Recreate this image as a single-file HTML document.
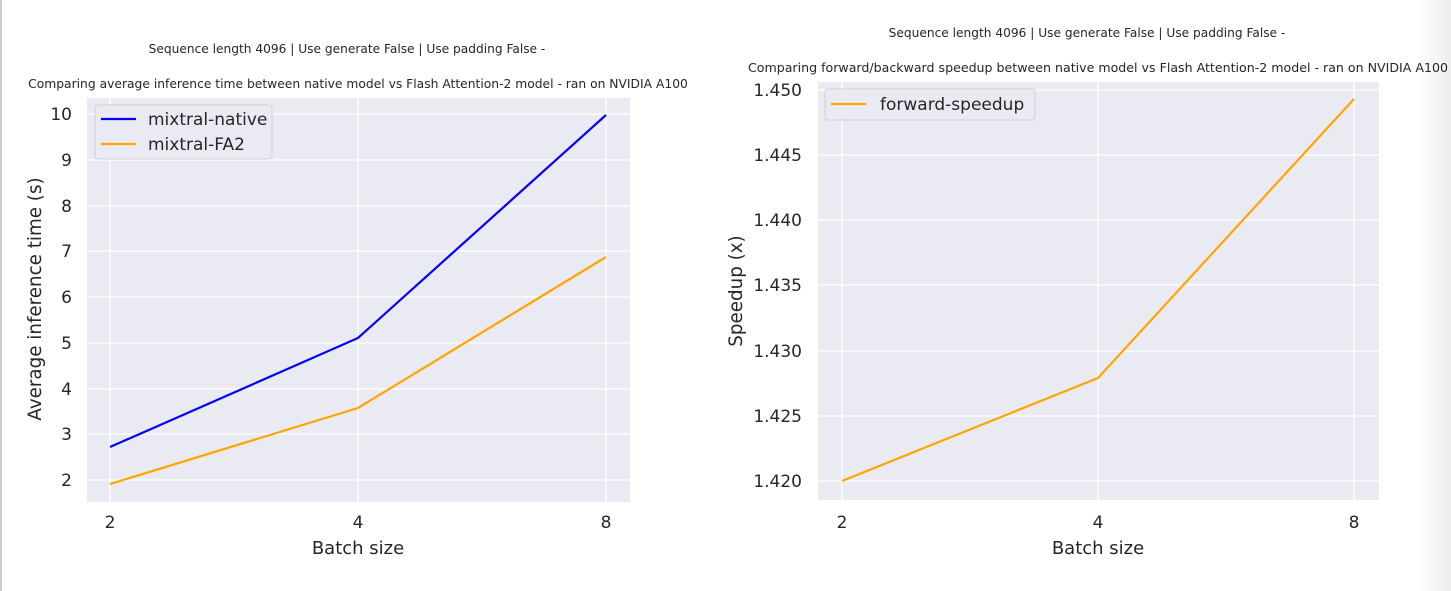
<!DOCTYPE html>
<html><head><style>body{margin:0;background:#fff;}svg{display:block}text{font-family:"DejaVu Sans","Liberation Sans",sans-serif;fill:#262626}</style></head>
<body>
<svg width="1451" height="591" xmlns="http://www.w3.org/2000/svg">
<defs><linearGradient id="g" x1="0" x2="1"><stop offset="0" stop-color="#fff"/><stop offset="1" stop-color="#eee"/></linearGradient></defs>
<rect x="1415" y="0" width="36" height="591" fill="url(#g)"/>
<rect x="0" y="0" width="2" height="591" fill="#ccc"/>
<!-- left -->
<text x="347" y="53" font-size="12.2" text-anchor="middle">Sequence length 4096 | Use generate False | Use padding False -</text>
<text x="358" y="88" font-size="12.3" text-anchor="middle">Comparing average inference time between native model vs Flash Attention-2 model - ran on NVIDIA A100</text>
<rect x="87" y="98" width="543" height="404" fill="#eaeaf2"/>
<g stroke="#fff" stroke-width="1.3">
<line x1="87" x2="630" y1="114" y2="114"/><line x1="87" x2="630" y1="160" y2="160"/><line x1="87" x2="630" y1="206" y2="206"/><line x1="87" x2="630" y1="251" y2="251"/><line x1="87" x2="630" y1="297" y2="297"/><line x1="87" x2="630" y1="343" y2="343"/><line x1="87" x2="630" y1="389" y2="389"/><line x1="87" x2="630" y1="434" y2="434"/><line x1="87" x2="630" y1="480" y2="480"/>
<line x1="110" x2="110" y1="98" y2="502"/><line x1="358" x2="358" y1="98" y2="502"/><line x1="606" x2="606" y1="98" y2="502"/>
</g>
<polyline points="110,447 358,338 606,115" fill="none" stroke="#0000ff" stroke-width="2.2"/>
<polyline points="110,484 358,408 606,257" fill="none" stroke="#ffa500" stroke-width="2.2"/>
<rect x="95" y="105" width="177" height="54" rx="3" fill="#eaeaf2" fill-opacity="0.8" stroke="#d0d0d8"/>
<line x1="101" x2="136" y1="119" y2="119" stroke="#0000ff" stroke-width="2.2"/>
<line x1="101" x2="136" y1="144" y2="144" stroke="#ffa500" stroke-width="2.2"/>
<text x="148" y="125" font-size="17">mixtral-native</text>
<text x="148" y="150" font-size="17">mixtral-FA2</text>
<g font-size="17" text-anchor="end">
<text x="72" y="120">10</text><text x="72" y="166">9</text><text x="72" y="212">8</text><text x="72" y="257">7</text><text x="72" y="303">6</text><text x="72" y="349">5</text><text x="72" y="395">4</text><text x="72" y="440">3</text><text x="72" y="486">2</text></g>
<g font-size="17" text-anchor="middle"><text x="110" y="528">2</text><text x="358" y="528">4</text><text x="606" y="528">8</text></g>
<text x="358" y="554" font-size="18" text-anchor="middle">Batch size</text>
<text transform="translate(41,299) rotate(-90)" font-size="18.3" text-anchor="middle">Average inference time (s)</text>
<!-- right -->
<text x="1087" y="37" font-size="12.2" text-anchor="middle">Sequence length 4096 | Use generate False | Use padding False -</text>
<text x="1098" y="72" font-size="12.6" text-anchor="middle">Comparing forward/backward speedup between native model vs Flash Attention-2 model - ran on NVIDIA A100</text>
<rect x="818" y="82" width="561" height="418" fill="#eaeaf2"/>
<g stroke="#fff" stroke-width="1.3">
<line x1="818" x2="1379" y1="90" y2="90"/><line x1="818" x2="1379" y1="155" y2="155"/><line x1="818" x2="1379" y1="220" y2="220"/><line x1="818" x2="1379" y1="285" y2="285"/><line x1="818" x2="1379" y1="351" y2="351"/><line x1="818" x2="1379" y1="416" y2="416"/><line x1="818" x2="1379" y1="481" y2="481"/>
<line x1="842" x2="842" y1="82" y2="500"/><line x1="1098" x2="1098" y1="82" y2="500"/><line x1="1354" x2="1354" y1="82" y2="500"/>
</g>
<polyline points="842,481 1098,378 1354,99" fill="none" stroke="#ffa500" stroke-width="2.2"/>
<rect x="825" y="89" width="210" height="31" rx="3" fill="#eaeaf2" fill-opacity="0.8" stroke="#d0d0d8"/>
<line x1="831" x2="866" y1="104" y2="104" stroke="#ffa500" stroke-width="2.2"/>
<text x="880" y="110" font-size="17">forward-speedup</text>
<g font-size="17" text-anchor="end">
<text x="802" y="96">1.450</text><text x="802" y="161">1.445</text><text x="802" y="226">1.440</text><text x="802" y="291">1.435</text><text x="802" y="357">1.430</text><text x="802" y="422">1.425</text><text x="802" y="487">1.420</text></g>
<g font-size="17" text-anchor="middle"><text x="842" y="528">2</text><text x="1098" y="528">4</text><text x="1354" y="528">8</text></g>
<text x="1098" y="554" font-size="18" text-anchor="middle">Batch size</text>
<text transform="translate(742,291) rotate(-90)" font-size="18.3" text-anchor="middle">Speedup (x)</text>
</svg>
</body></html>
